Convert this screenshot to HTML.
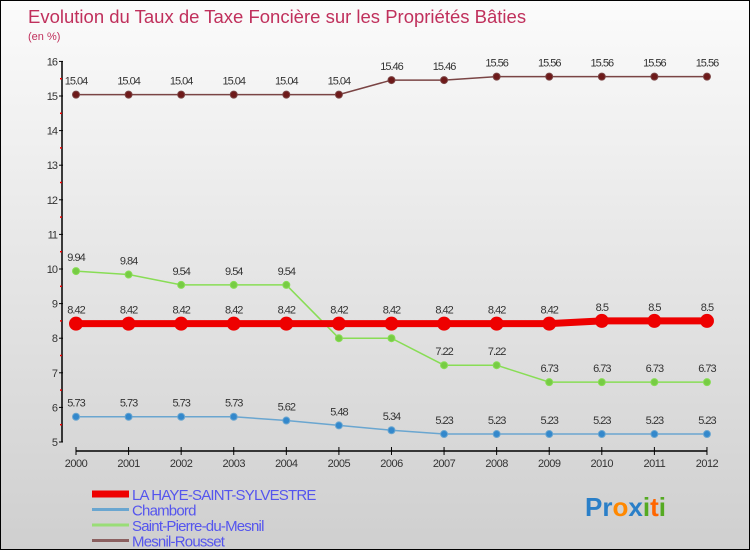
<!DOCTYPE html>
<html><head><meta charset="utf-8"><style>
body{margin:0;width:750px;height:550px;overflow:hidden;font-family:"Liberation Sans",sans-serif}
#c{position:absolute;left:0;top:0;width:748px;height:548px;border:1px solid #000;background:linear-gradient(#fbfbfb,#cfcfcf)}
</style></head><body>
<div id="c">
<svg id="s" width="748" height="548" xmlns="http://www.w3.org/2000/svg">
<text x="27" y="22" font-size="18.5" fill="#c0305c">Evolution du Taux de Taxe Foncière sur les Propriétés Bâties</text>
<text x="27" y="39" font-size="11" fill="#c0305c">(en %)</text>
</svg></div>
<script>
const years=[2000,2001,2002,2003,2004,2005,2006,2007,2008,2009,2010,2011,2012];
const yTicks=[5,6,7,8,9,10,11,12,13,14,15,16];
const haye=[8.42,8.42,8.42,8.42,8.42,8.42,8.42,8.42,8.42,8.42,8.5,8.5,8.5];
const chambord=[5.73,5.73,5.73,5.73,5.62,5.48,5.34,5.23,5.23,5.23,5.23,5.23,5.23];
const stpierre=[9.94,9.84,9.54,9.54,9.54,8.0,8.0,7.22,7.22,6.73,6.73,6.73,6.73];
const mesnil=[15.04,15.04,15.04,15.04,15.04,15.04,15.46,15.46,15.56,15.56,15.56,15.56,15.56];
const names=["LA HAYE-SAINT-SYLVESTRE","Chambord","Saint-Pierre-du-Mesnil","Mesnil-Rousset"];
const stpLabels=["9.94","9.84","9.54","9.54","9.54","8","8","7.22","7.22","6.73","6.73","6.73","6.73"];
const NS="http://www.w3.org/2000/svg",s=document.getElementById('s');
const X=i=>75+i*52.58, Y=v=>441-(v-5)*34.6;
function el(t,a,p){const e=document.createElementNS(NS,t);for(const k in a)e.setAttribute(k,a[k]);(p||s).appendChild(e);return e;}
let ax=el('line',{x1:61,y1:Y(16),x2:61,y2:Y(5),stroke:'#000','stroke-width':1.5});


yTicks.forEach(v=>{
 el('line',{x1:58,y1:Y(v),x2:62,y2:Y(v),stroke:'#000'});
 if(v<16){el('line',{x1:59,y1:Y(v+0.5),x2:61,y2:Y(v+0.5),stroke:'#e00','stroke-width':1.5});}
 const t=el('text',{x:56,y:Y(v)+4,'font-size':11,fill:'#333','text-anchor':'end','letter-spacing':'-1'});
 t.textContent=v;
 
 
});
let xa=el('line',{x1:X(0),y1:450,x2:X(12),y2:450,stroke:'#000','stroke-width':1.5});


years.forEach((y,i)=>{
 el('line',{x1:X(i),y1:446,x2:X(i),y2:454,stroke:'#000'});
 const t=el('text',{x:X(i),y:466,'font-size':11,fill:'#333','text-anchor':'middle','letter-spacing':'-0.5'});
 t.textContent=y;
 
 
});
function series(d,col,fill,w,r,nm,labels){
 const g=el('g',{});
 
 
 el('polyline',{points:d.map((v,i)=>X(i)+','+Y(v)).join(' '),fill:'none',stroke:col,'stroke-width':w},g);
 d.forEach((v,i)=>{
  const c=el('circle',{cx:X(i),cy:Y(v),r:r,fill:fill,stroke:col,'stroke-width':1},g);
  
  
  const t=el('text',{x:X(i),y:Y(v)-10,'font-size':11,fill:'#333','text-anchor':'middle','letter-spacing':'-1'},g);
  t.textContent=labels?labels[i]:v;
 });
}
series(mesnil,'#7a4444','#6e1a1a',1.5,3.5,'series-mesnil-rousset');
series(stpierre,'#88dd55','#77cc44',1.5,3.5,'series-saint-pierre-du-mesnil',stpLabels);
series(chambord,'#6aa6d0','#3388cc',1.5,3.5,'series-chambord');
series(haye,'#ee0000','#ee0000',7,6.5,'series-la-haye-saint-sylvestre');
const lc=['#ee0000','#6aa6d0','#99dd77','#8b6060'],lw=[7,3,3,3];
names.forEach((n,i)=>{
 const y=493+i*15.5;
 const g=el('g',{});
 
 
 el('line',{x1:91,y1:y,x2:128,y2:y,stroke:lc[i],'stroke-width':lw[i]},g);
 const t=el('text',{x:131,y:y+6,'font-size':15,fill:'#5555ee','letter-spacing':'-0.8'},g);
 t.textContent=n;
});
const logo=el('text',{x:584,y:515,'font-size':26,'font-weight':'bold'});


[['P','#2a7fc8'],['r','#2a7fc8'],['o','#ff8800'],['x','#2a7fc8'],['i','#55aa22'],['t','#ff6600'],['i','#55aa22']].forEach(([c,f])=>{
 const t=el('tspan',{fill:f},logo);t.textContent=c;});
</script>
</body></html>
